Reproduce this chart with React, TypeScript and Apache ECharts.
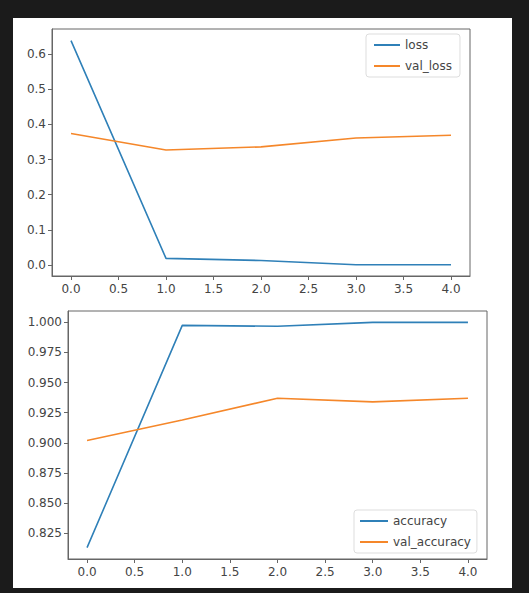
import React, { useEffect, useRef } from "react";
import * as echarts from "echarts";

const epochs = [0, 1, 2, 3, 4];
const loss = [0.638, 0.019, 0.013, 0.001, 0.001];
const valLoss = [0.374, 0.327, 0.336, 0.361, 0.369];
const accuracy = [0.813, 0.9975, 0.9967, 1.0, 1.0];
const valAccuracy = [0.902, 0.919, 0.937, 0.934, 0.937];
const xTicks = [0, 0.5, 1, 1.5, 2, 2.5, 3, 3.5, 4];
const lossTicks = [0, 0.1, 0.2, 0.3, 0.4, 0.5, 0.6];
const accTicks = [0.825, 0.85, 0.875, 0.9, 0.925, 0.95, 0.975, 1.0];

const BLUE = "#2f80b8";
const ORANGE = "#f5872a";
const TEXT = "#444";
const SPINE = "#666";
const FONT = "DejaVu Sans";

function pairs(ys: number[]) {
  return epochs.map((x, i) => [x, ys[i]]);
}

function xAxis(gridIndex: number) {
  return {
    type: "value",
    gridIndex,
    min: -0.2,
    max: 4.2,
    splitLine: { show: false },
    axisLine: { show: true, onZero: false, lineStyle: { color: SPINE, width: 1 } },
    axisTick: {
      show: true,
      inside: false,
      length: 4,
      customValues: xTicks,
      lineStyle: { color: SPINE },
    },
    axisLabel: {
      customValues: xTicks,
      formatter: (v: number) => v.toFixed(1),
      color: TEXT,
      fontSize: 12,
      fontFamily: FONT,
      margin: 7,
    },
  };
}

function yAxis(gridIndex: number, min: number, max: number, ticks: number[], digits: number) {
  return {
    type: "value",
    gridIndex,
    min,
    max,
    splitLine: { show: false },
    axisLine: { show: true, onZero: false, lineStyle: { color: SPINE, width: 1 } },
    axisTick: {
      show: true,
      inside: false,
      length: 4,
      customValues: ticks,
      lineStyle: { color: SPINE },
    },
    axisLabel: {
      customValues: ticks,
      formatter: (v: number) => v.toFixed(digits),
      color: TEXT,
      fontSize: 12,
      fontFamily: FONT,
      margin: 6,
    },
  };
}

export default function App() {
  const ref = useRef<HTMLDivElement>(null);
  useEffect(() => {
    if (!ref.current) return;
    const chart = echarts.init(ref.current, null, { renderer: "svg" });
    const lineSeries = (name: string, data: number[], color: string, idx: number) => ({
      name,
      type: "line",
      xAxisIndex: idx,
      yAxisIndex: idx,
      data: pairs(data),
      symbol: "none",
      lineStyle: { color, width: 1.6 },
      itemStyle: { color },
      z: 3,
    });
    chart.setOption({
      animation: false,
      backgroundColor: "#1b1b1b",
      textStyle: { fontFamily: FONT },
      graphic: [
        {
          type: "rect",
          z: -10,
          silent: true,
          shape: { x: 13, y: 18, width: 499, height: 570 },
          style: { fill: "#ffffff" },
        },
      ],
      grid: [
        { left: 52, top: 29, right: 59, bottom: 317, show: true, borderColor: SPINE, borderWidth: 1, backgroundColor: "#fff" },
        { left: 68, top: 311, right: 42, bottom: 34, show: true, borderColor: SPINE, borderWidth: 1, backgroundColor: "#fff" },
      ],
      xAxis: [xAxis(0), xAxis(1)],
      yAxis: [
        yAxis(0, -0.031, 0.671, lossTicks, 1),
        yAxis(1, 0.8036, 1.0094, accTicks, 3),
      ],
      legend: [
        {
          data: ["loss", "val_loss"],
          orient: "vertical",
          left: 366,
          top: 34,
          icon: "rect",
          itemWidth: 26,
          itemHeight: 2,
          itemGap: 9,
          padding: [5, 8, 5, 8],
          borderColor: "#ddd",
          borderWidth: 1,
          borderRadius: 3,
          backgroundColor: "#fff",
          textStyle: { color: TEXT, fontSize: 12, fontFamily: FONT },
        },
        {
          data: ["accuracy", "val_accuracy"],
          orient: "vertical",
          left: 354,
          top: 510,
          icon: "rect",
          itemWidth: 28,
          itemHeight: 2,
          itemGap: 9,
          padding: [5, 6, 5, 6],
          borderColor: "#ddd",
          borderWidth: 1,
          borderRadius: 3,
          backgroundColor: "#fff",
          textStyle: { color: TEXT, fontSize: 12, fontFamily: FONT },
        },
      ],
      series: [
        lineSeries("loss", loss, BLUE, 0),
        lineSeries("val_loss", valLoss, ORANGE, 0),
        lineSeries("accuracy", accuracy, BLUE, 1),
        lineSeries("val_accuracy", valAccuracy, ORANGE, 1),
      ],
    });
    return () => chart.dispose();
  }, []);
  return (
    <div
      ref={ref}
      style={{ position: "fixed", left: 0, top: 0, width: 529, height: 593 }}
    />
  );
}
